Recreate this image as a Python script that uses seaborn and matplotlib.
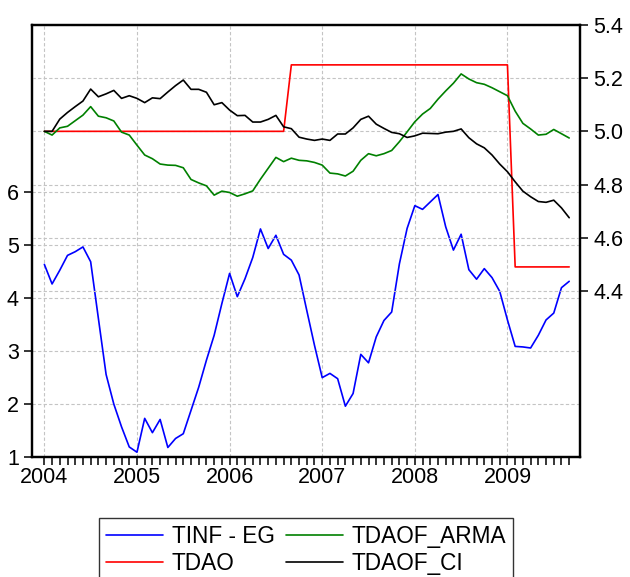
import numpy as np
import pandas as pd
import matplotlib
matplotlib.use("Agg")
import matplotlib.pyplot as plt
from matplotlib.ticker import FixedLocator
import seaborn as sns

# Monthly observations, 2004M01 .. 2009M09
start_year = 2004
n_months = 69
year_labels = ["2004", "2005", "2006", "2007", "2008", "2009"]

tinf_eg = [4.64, 4.27, 4.53, 4.81, 4.88, 4.97, 4.69, 3.62, 2.56, 2.00, 1.57, 1.19,
           1.09, 1.73, 1.46, 1.71, 1.18, 1.35, 1.44, 1.88, 2.32, 2.83, 3.30, 3.90,
           4.47, 4.03, 4.37, 4.77, 5.31, 4.94, 5.19, 4.83, 4.72, 4.44, 3.77, 3.11,
           2.50, 2.58, 2.48, 1.96, 2.20, 2.94, 2.78, 3.27, 3.58, 3.74, 4.65, 5.32,
           5.75, 5.68, 5.82, 5.96, 5.35, 4.91, 5.21, 4.54, 4.36, 4.56, 4.39, 4.13,
           3.59, 3.09, 3.08, 3.06, 3.30, 3.59, 3.72, 4.20, 4.32]

tdao = [5.00] * 32 + [5.25] * 29 + [4.49] * 8

tdaof_arma = [5.000, 4.986, 5.013, 5.019, 5.040, 5.061, 5.093, 5.057, 5.051, 5.039,
              4.997, 4.986, 4.948, 4.911, 4.897, 4.877, 4.873, 4.872, 4.863, 4.819,
              4.806, 4.795, 4.760, 4.775, 4.770, 4.756, 4.765, 4.776, 4.820, 4.861,
              4.902, 4.886, 4.899, 4.891, 4.889, 4.883, 4.873, 4.843, 4.840, 4.832,
              4.850, 4.891, 4.916, 4.908, 4.916, 4.928, 4.961, 4.998, 5.036, 5.065,
              5.086, 5.121, 5.152, 5.181, 5.216, 5.197, 5.183, 5.177, 5.164, 5.149,
              5.134, 5.076, 5.030, 5.009, 4.986, 4.989, 5.007, 4.991, 4.975]

tdaof_ci = [5.000, 5.000, 5.046, 5.071, 5.093, 5.114, 5.159, 5.130, 5.141, 5.154,
            5.124, 5.134, 5.124, 5.108, 5.126, 5.123, 5.148, 5.172, 5.193, 5.158,
            5.158, 5.147, 5.100, 5.108, 5.080, 5.059, 5.060, 5.035, 5.035, 5.045,
            5.060, 5.017, 5.010, 4.978, 4.971, 4.966, 4.971, 4.966, 4.990, 4.990,
            5.013, 5.045, 5.057, 5.027, 5.011, 4.996, 4.991, 4.977, 4.983, 4.993,
            4.992, 4.991, 4.997, 5.000, 5.009, 4.976, 4.953, 4.938, 4.911, 4.877,
            4.848, 4.810, 4.775, 4.754, 4.736, 4.733, 4.741, 4.712, 4.675]

left_ticks = [1, 2, 3, 4, 5, 6]
right_ticks = [4.4, 4.6, 4.8, 5.0, 5.2, 5.4]

df = pd.DataFrame({
    "month": np.arange(n_months),
    "TINF - EG": tinf_eg,
    "TDAO": tdao,
    "TDAOF_ARMA": tdaof_arma,
    "TDAOF_CI": tdaof_ci,
})

sns.set_theme(style="white")
plt.rcParams["font.family"] = ["Liberation Sans", "DejaVu Sans"]
plt.rcParams["text.color"] = "black"

W, H = 630, 577
fig = plt.figure(figsize=(W / 100, H / 100), dpi=100)
ax = fig.add_axes([32 / W, 1 - 457 / H, (580 - 32) / W, (457 - 25) / H])
ax2 = ax.twinx()

lw = 1.2
sns.lineplot(data=df, x="month", y="TINF - EG", ax=ax, color="#0000ff", lw=lw,
             label="TINF - EG", legend=False)
sns.lineplot(data=df, x="month", y="TDAO", ax=ax2, color="#ff0000", lw=lw,
             label="TDAO", legend=False)
sns.lineplot(data=df, x="month", y="TDAOF_ARMA", ax=ax2, color="#008000", lw=lw,
             label="TDAOF_ARMA", legend=False)
sns.lineplot(data=df, x="month", y="TDAOF_CI", ax=ax2, color="#000000", lw=lw,
             label="TDAOF_CI", legend=False)

ax.set_xlim(-1.6, 69.4)
ax.set_ylim(1.0, 9.164)
ax2.set_ylim(3.775, 5.4)

year_pos = [12 * k for k in range(len(year_labels))]
ax.xaxis.set_major_locator(FixedLocator(year_pos))
ax.set_xticklabels(year_labels)
ax.xaxis.set_minor_locator(FixedLocator(list(range(n_months))))
ax.yaxis.set_major_locator(FixedLocator(left_ticks))
ax.set_yticklabels([str(t) for t in left_ticks])
ax2.yaxis.set_major_locator(FixedLocator(right_ticks))
ax2.set_yticklabels([f"{t:.1f}" for t in right_ticks])

for a in (ax, ax2):
    a.set_xlabel("")
    a.set_ylabel("")
    for s in a.spines.values():
        s.set_color("black")
        s.set_linewidth(1.6)

grid_kw = dict(color="#c4c4c4", lw=0.8, linestyle=(0, (3, 2)))
ax.grid(True, axis="both", which="major", **grid_kw)
ax2.grid(True, axis="y", which="major", **grid_kw)
ax.set_axisbelow(True)
ax2.set_axisbelow(True)

fs = 15.5
ax.tick_params(axis="x", which="both", direction="out", length=5.5, width=1.1,
               bottom=True, labelsize=fs, pad=2, colors="black")
ax.tick_params(axis="y", which="major", direction="out", length=5.5, width=1.1,
               left=True, labelsize=fs, pad=4, colors="black")
ax2.tick_params(axis="y", which="major", direction="out", length=5.5, width=1.1,
                right=True, labelsize=fs, pad=4, colors="black")

handles = ax.get_lines()[:1] + ax2.get_lines()[:3]
leg = fig.legend(handles,
                 ["TINF - EG", "TDAO", "TDAOF_ARMA", "TDAOF_CI"],
                 loc="upper center", bbox_to_anchor=(306.4 / W, 1 - 518 / H),
                 borderaxespad=0.0,
                 ncol=2, fontsize=16.3, frameon=True, fancybox=False,
                 edgecolor="black", handlelength=2.5, handletextpad=0.4,
                 columnspacing=0.5, labelspacing=0.2, borderpad=0.3)
leg.get_frame().set_linewidth(1.0)
for t in leg.get_texts():
    t.set_color("black")

fig.savefig("out.png", dpi=100)
